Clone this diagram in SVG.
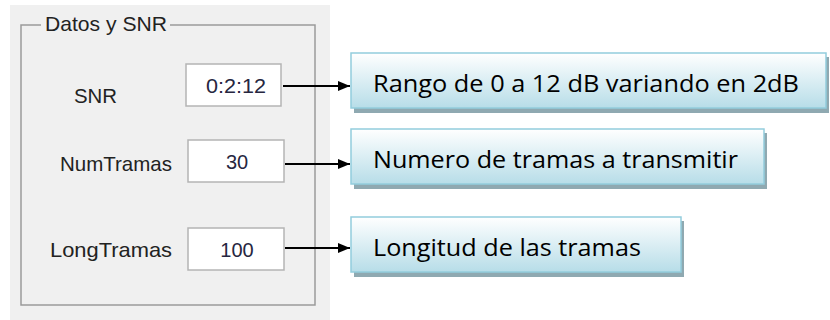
<svg xmlns="http://www.w3.org/2000/svg" width="830" height="320" viewBox="0 0 830 320">
<defs>
<linearGradient id="cg" x1="0" y1="0" x2="0" y2="1">
<stop offset="0" stop-color="#ffffff"/>
<stop offset="1" stop-color="#b7dde8"/>
</linearGradient>
<marker id="ah" markerWidth="12" markerHeight="10" refX="12" refY="5" orient="auto" markerUnits="userSpaceOnUse">
<path d="M0,0 L12,5 L0,10 Z" fill="#000"/>
</marker>
</defs>
<style>
.ui{font-family:"Liberation Sans",Arial,sans-serif;font-size:21px;fill:#222222}
.val{font-family:"Liberation Sans",Arial,sans-serif;font-size:20px;fill:#262640;text-anchor:middle}
.edit{fill:#ffffff;stroke:#b4b4b4;stroke-width:1.5}
.frame{fill:none;stroke:#9a9a9a;stroke-width:1.5}
.call{fill:url(#cg);stroke:#93cddd;stroke-width:1.5}
.shadow{fill:#8fa9b1}
.ct{font-family:"Open Sans","Noto Sans",sans-serif;font-size:23px;fill:#000}
.conn{stroke:#000;stroke-width:2;fill:none;marker-end:url(#ah)}
</style>
<rect width="830" height="320" fill="#ffffff"/>
<rect x="10" y="5" width="320" height="315" fill="#f0f0f0"/>
<g id="panel">
<path class="frame" d="M41,25 H21 V305 H315 V25 H170"/>
<text class="ui" x="45" y="31" textLength="122" lengthAdjust="spacingAndGlyphs">Datos y SNR</text>
</g>
<g id="snr">
<text class="ui" x="74" y="103" textLength="43" lengthAdjust="spacingAndGlyphs">SNR</text>
<rect class="edit" x="186" y="64" width="95" height="42"/>
<text class="val" x="236" y="93" textLength="60" lengthAdjust="spacingAndGlyphs">0:2:12</text>
</g>
<g id="numtramas">
<text class="ui" x="60" y="171" textLength="112" lengthAdjust="spacingAndGlyphs">NumTramas</text>
<rect class="edit" x="188" y="140" width="96" height="42"/>
<text class="val" x="237" y="169">30</text>
</g>
<g id="longtramas">
<text class="ui" x="50" y="257" textLength="122" lengthAdjust="spacingAndGlyphs">LongTramas</text>
<rect class="edit" x="188" y="228" width="96" height="42"/>
<text class="val" x="237" y="257">100</text>
</g>
<g id="callout1">
<rect class="shadow" x="354" y="57" width="475" height="56"/>
<rect class="call" x="351" y="53" width="475" height="55"/>
<text class="ct" x="373" y="92" textLength="426" lengthAdjust="spacingAndGlyphs">Rango de 0 a 12 dB variando en 2dB</text>
</g>
<g id="callout2">
<rect class="shadow" x="354" y="133" width="413" height="56"/>
<rect class="call" x="351" y="129" width="413" height="55"/>
<text class="ct" x="373" y="168" textLength="365" lengthAdjust="spacingAndGlyphs">Numero de tramas a transmitir</text>
</g>
<g id="callout3">
<rect class="shadow" x="354" y="221" width="330" height="56"/>
<rect class="call" x="351" y="217" width="330" height="55"/>
<text class="ct" x="373" y="256" textLength="268" lengthAdjust="spacingAndGlyphs">Longitud de las tramas</text>
</g>
<g id="connectors">
<line class="conn" x1="283" y1="86" x2="350" y2="86"/>
<line class="conn" x1="285" y1="164" x2="350" y2="164"/>
<line class="conn" x1="285" y1="248" x2="350" y2="248"/>
</g>
</svg>
